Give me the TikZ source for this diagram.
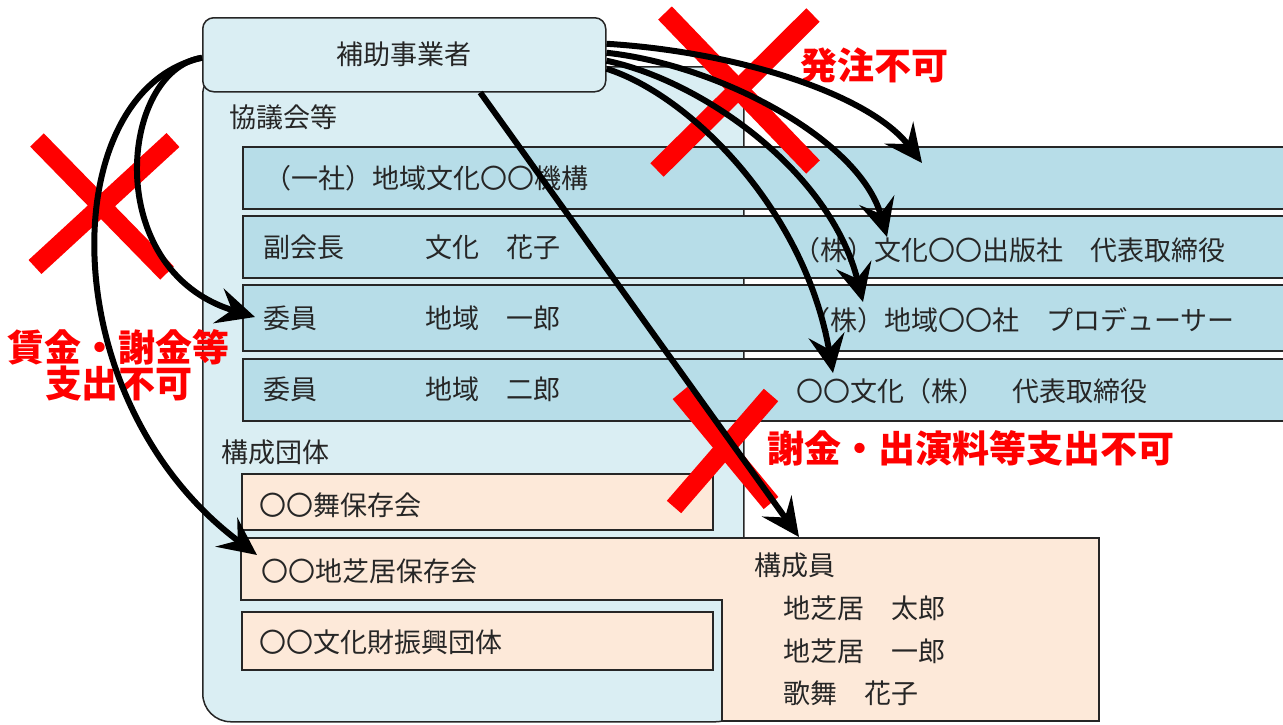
\documentclass[tikz,border=0pt]{standalone}
\usepackage{fontspec}
\newfontfamily\jp{Noto Sans CJK JP}
\usetikzlibrary{arrows.meta,calc}
\definecolor{contbg}{HTML}{DAEEF3}
\definecolor{rowbg}{HTML}{B7DDE8}
\definecolor{peach}{HTML}{FDE9D9}
\definecolor{xred}{HTML}{FF0000}
\begin{document}
\begin{tikzpicture}[x=1pt,y=-1pt,
  box/.style={draw=black!85, line width=1.5pt, inner sep=0pt, anchor=north west},
  txt/.style={inner sep=0pt, anchor=west, text=black!85, font=\jp\fontsize{27}{30}\selectfont},
  redtxt/.style={inner sep=0pt, text=xred, font=\jp\bfseries\fontsize{37}{36}\selectfont},
  cross/.style={draw=xred, line width=19pt},
  arr/.style={line width=6pt, -{Stealth[length=38pt,width=36pt,inset=14pt]}}]
\useasboundingbox (0,0) rectangle (1283,724);

% container
\node[box, fill=contbg, rounded corners=28pt, minimum width=541pt, minimum height=655pt] (council) at (202,66) {};
% rows
\node[box, fill=rowbg, minimum width=1060pt, minimum height=62pt] (row1) at (242,146) {};
\node[box, fill=rowbg, minimum width=1060pt, minimum height=62pt] (row2) at (242,215) {};
\node[box, fill=rowbg, minimum width=1060pt, minimum height=66pt] (row3) at (242,284) {};
\node[box, fill=rowbg, minimum width=1060pt, minimum height=62pt] (row4) at (242,358) {};
% groups
\node[box, fill=peach, minimum width=471pt, minimum height=56pt] (mai) at (241,473) {};
\draw[draw=black!85, line width=1.5pt, fill=peach] (241,538) -- (1099,538) -- (1099,721) -- (722,721) -- (722,600) -- (241,600) -- cycle;
\node[box, fill=peach, minimum width=471pt, minimum height=58pt] (zaidan) at (241,611) {};
% top box
\node[box, fill=contbg, rounded corners=11pt, minimum width=403pt, minimum height=74pt,
      font=\jp\fontsize{27}{30}\selectfont, text=black!85] (hojo) at (202,17) {補助事業者};

% texts
\node[txt] (lab1) at (229,117) {協議会等};
\node[txt] (t1) at (264,178) {（一社）地域文化〇〇機構};
\node[txt] (t2a) at (263,247) {副会長　　　文化　花子};
\node[txt] (t2b) at (793,250) {（株）文化〇〇出版社　代表取締役};
\node[txt] (t3a) at (263,318) {委員　　　　地域　一郎};
\node[txt] (t3b) at (803,320) {（株）地域〇〇社　プロデューサー};
\node[txt] (t4a) at (263,389) {委員　　　　地域　二郎};
\node[txt] (t4b) at (796,391) {〇〇文化（株）　代表取締役};
\node[txt] (lab2) at (221,452) {構成団体};
\node[txt] (g1) at (259,505) {〇〇舞保存会};
\node[txt] (g2) at (261,571) {〇〇地芝居保存会};
\node[txt] (g3) at (259,642) {〇〇文化財振興団体};
\node[txt] (m0) at (754,565) {構成員};
\node[txt] (m1) at (783,608) {地芝居　太郎};
\node[txt] (m2) at (783,651) {地芝居　一郎};
\node[txt] (m3) at (783,693) {歌舞　花子};

% red crosses
\draw[cross] (665,13) -- (813,167);
\draw[cross] (813,15) -- (657,170);
\draw[cross] (37,140) -- (167,273);
\draw[cross] (173,140) -- (35,267);
\draw[cross] (680,393) -- (771,503);
\draw[cross] (771,395) -- (674,507);

% red labels
\node[redtxt, anchor=west] (r1) at (800,65) {発注不可};
\node[redtxt, align=center] (r2) at (119,365) {賃金・謝金等\\支出不可};
\node[redtxt, anchor=west] (r3) at (767,448) {謝金・出演料等支出不可};

% arrow targets
\coordinate (ea) at (922,163);
\coordinate (eb) at (887,237);
\coordinate (ec) at (863,302);
\coordinate (ed) at (833,373);
\coordinate (ee) at (799,537);
\coordinate (ef) at (255,317);
\coordinate (eg) at (257,555);

% arrows
\draw[arr] ($(hojo.east)+(0,-11)$) .. controls (740,52) and (870,95) .. (ea);
\draw[arr] ($(hojo.east)+(0,-2)$) .. controls (720,65) and (860,140) .. (eb);
\draw[arr] ($(hojo.east)+(0,6)$) .. controls (700,80) and (830,170) .. (ec);
\draw[arr] ($(hojo.east)+(0,14)$) .. controls (690,95) and (805,210) .. (ed);
\draw[arr] ($(hojo.south)+(76,0)$) -- (ee);
\draw[arr] ($(hojo.west)+(0,3)$) .. controls (120,70) and (100,270) .. (ef);
\draw[arr] ($(hojo.west)+(0,3)$) .. controls (55,90) and (50,400) .. (eg);
\end{tikzpicture}
\end{document}
